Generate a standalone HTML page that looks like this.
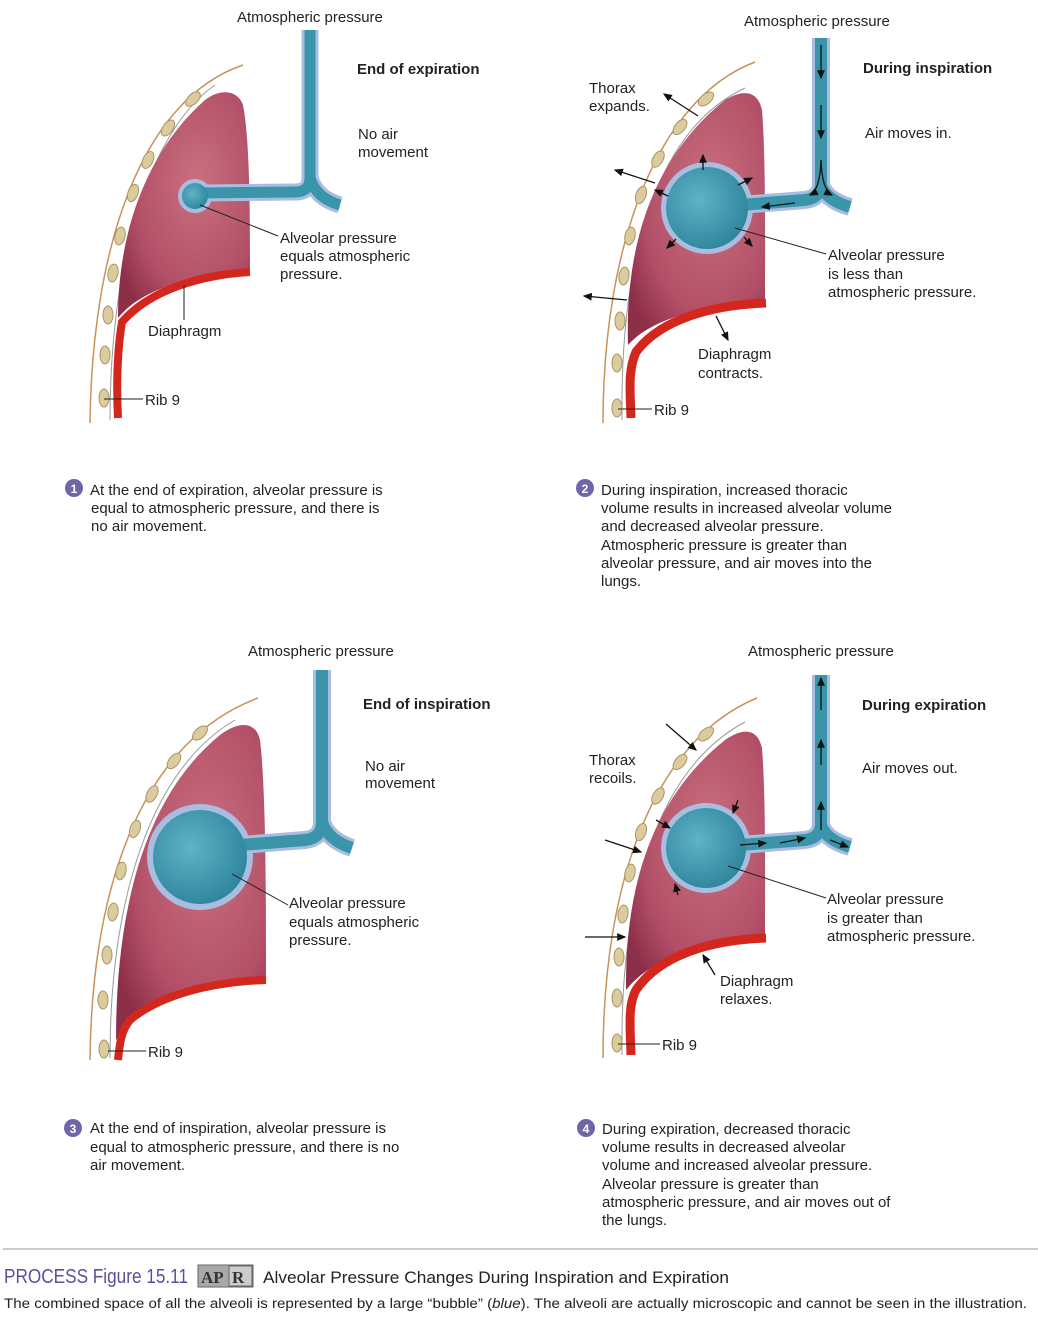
<!DOCTYPE html>
<html><head><meta charset="utf-8"><style>
body{margin:0;background:#fff;width:1038px;height:1322px;overflow:hidden;position:relative;font-family:"Liberation Sans",sans-serif;color:#222}
svg{position:absolute;left:0;top:0}
</style></head><body>
<svg width="1038" height="1322" viewBox="0 0 1038 1322" font-family="Liberation Sans, sans-serif" font-size="15" fill="#222">
<defs>
<radialGradient id="lg" cx="0.6" cy="0.4" r="0.7"><stop offset="0" stop-color="#c9707f"/><stop offset="0.7" stop-color="#b24f67"/><stop offset="1" stop-color="#8e2f4a"/></radialGradient>
<radialGradient id="bg" cx="0.4" cy="0.4" r="0.7"><stop offset="0" stop-color="#5fb3c6"/><stop offset="1" stop-color="#2a8199"/></radialGradient>
<marker id="ah" markerWidth="8" markerHeight="8" refX="6" refY="3" orient="auto"><path d="M0,0 L7,3 L0,6 z" fill="#111"/></marker>
</defs>

<!-- PANEL 1 -->
<path d="M90,423 C92,250 140,100 243,65" fill="none" stroke="#c89258" stroke-width="1.5"/>
<path d="M110,420 C110,260 150,130 215,85" fill="none" stroke="#999" stroke-width="1"/>
<g fill="#dccb9c" stroke="#a8966a">
<ellipse cx="104" cy="398" rx="5" ry="9"/><ellipse cx="105" cy="355" rx="5" ry="9"/><ellipse cx="108" cy="315" rx="5" ry="9"/><ellipse cx="113" cy="273" rx="5" ry="9" transform="rotate(10 113 273)"/><ellipse cx="120" cy="236" rx="5" ry="9" transform="rotate(12 120 236)"/><ellipse cx="133" cy="193" rx="5" ry="9" transform="rotate(20 133 193)"/><ellipse cx="148" cy="160" rx="5" ry="9" transform="rotate(25 148 160)"/><ellipse cx="168" cy="128" rx="5" ry="9" transform="rotate(35 168 128)"/><ellipse cx="193" cy="99" rx="5" ry="9" transform="rotate(45 193 99)"/></g>
<path d="M118,318 C118,230 148,150 205,100 C220,88 238,90 243,105 C250,140 250,220 250,270 C190,275 140,290 118,318 Z" fill="url(#lg)"/>
<path d="M118,418 C116,380 118,345 122,322 C150,290 200,275 250,272" fill="none" stroke="#d3261d" stroke-width="8"/>
<path d="M310,30 L310,178 Q310,192 295,192 L200,193" fill="none" stroke="#a8bde0" stroke-width="17"/>
<path d="M310,178 Q316,198 340,205" fill="none" stroke="#a8bde0" stroke-width="17"/>
<circle cx="195" cy="196" r="17" fill="#a8bde0"/>
<path d="M310,30 L310,178 Q310,192 295,192 L200,193" fill="none" stroke="#3a95ab" stroke-width="11"/>
<path d="M310,178 Q316,198 340,205" fill="none" stroke="#3a95ab" stroke-width="11"/>
<circle cx="195" cy="196" r="13" fill="url(#bg)"/>
<line x1="200" y1="205" x2="278" y2="236" stroke="#222"/>
<line x1="184" y1="285" x2="184" y2="320" stroke="#222"/>
<line x1="104" y1="399" x2="143" y2="399" stroke="#222"/>
<text x="237" y="22">Atmospheric pressure</text>
<text x="357" y="74" font-weight="bold">End of expiration</text>
<text x="358" y="139">No air</text><text x="358" y="157">movement</text>
<text x="280" y="243">Alveolar pressure</text><text x="280" y="261">equals atmospheric</text><text x="280" y="279">pressure.</text>
<text x="148" y="336">Diaphragm</text>
<text x="145" y="405">Rib 9</text>

<!-- PANEL 2 -->
<path d="M603,423 C603,250 655,100 755,62" fill="none" stroke="#c89258" stroke-width="1.5"/>
<path d="M622,420 C620,260 655,130 745,88" fill="none" stroke="#999" stroke-width="1"/>
<g fill="#dccb9c" stroke="#a8966a">
<ellipse cx="617" cy="408" rx="5" ry="9"/><ellipse cx="617" cy="363" rx="5" ry="9"/><ellipse cx="620" cy="321" rx="5" ry="9"/><ellipse cx="624" cy="276" rx="5" ry="9" transform="rotate(8 624 276)"/><ellipse cx="630" cy="236" rx="5" ry="9" transform="rotate(12 630 236)"/><ellipse cx="641" cy="195" rx="5" ry="9" transform="rotate(20 641 195)"/><ellipse cx="658" cy="159" rx="5" ry="9" transform="rotate(30 658 159)"/><ellipse cx="680" cy="127" rx="5" ry="9" transform="rotate(40 680 127)"/><ellipse cx="706" cy="99" rx="5" ry="9" transform="rotate(50 706 99)"/></g>
<path d="M628,345 C625,250 650,160 725,100 C745,88 758,92 762,110 C766,160 765,250 765,302 C700,305 650,320 628,345 Z" fill="url(#lg)"/>
<path d="M631,418 C630,390 628,370 636,352 C660,320 710,305 766,303" fill="none" stroke="#d3261d" stroke-width="9"/>
<path d="M821,38 L821,185 Q820,198 805,200 L740,205" fill="none" stroke="#a8bde0" stroke-width="18"/>
<path d="M821,185 Q826,200 850,207" fill="none" stroke="#a8bde0" stroke-width="18"/>
<circle cx="707" cy="208" r="46" fill="#a8bde0"/>
<path d="M821,38 L821,185 Q820,198 805,200 L740,205" fill="none" stroke="#3a95ab" stroke-width="12"/>
<path d="M821,185 Q826,200 850,207" fill="none" stroke="#3a95ab" stroke-width="12"/>
<circle cx="707" cy="208" r="41" fill="url(#bg)"/>
<g stroke="#111" stroke-width="1.3" marker-end="url(#ah)" fill="none">
<line x1="821" y1="45" x2="821" y2="78"/><line x1="821" y1="105" x2="821" y2="138"/>
<path d="M821,160 Q820,190 810,195"/><path d="M821,160 Q822,190 832,195"/>
<line x1="795" y1="203" x2="762" y2="207"/>
<line x1="703" y1="170" x2="703" y2="155"/><line x1="738" y1="185" x2="752" y2="178"/>
<line x1="668" y1="196" x2="655" y2="190"/><line x1="676" y1="239" x2="667" y2="248"/><line x1="744" y1="237" x2="752" y2="246"/>
<line x1="698" y1="116" x2="664" y2="94"/><line x1="655" y1="183" x2="615" y2="170"/><line x1="627" y1="300" x2="584" y2="296"/>
<line x1="716" y1="316" x2="728" y2="340"/></g>
<line x1="735" y1="228" x2="826" y2="254" stroke="#222"/>
<line x1="618" y1="409" x2="652" y2="409" stroke="#222"/>
<text x="744" y="26">Atmospheric pressure</text>
<text x="863" y="73" font-weight="bold">During inspiration</text>
<text x="865" y="138">Air moves in.</text>
<text x="589" y="93">Thorax</text><text x="589" y="111">expands.</text>
<text x="828" y="260">Alveolar pressure</text><text x="828" y="279">is less than</text><text x="828" y="297">atmospheric pressure.</text>
<text x="698" y="359">Diaphragm</text><text x="698" y="378">contracts.</text>
<text x="654" y="415">Rib 9</text>

<!-- PANEL 3 -->
<path d="M90,1060 C92,880 145,740 258,698" fill="none" stroke="#c89258" stroke-width="1.5"/>
<path d="M110,1058 C110,900 150,770 235,720" fill="none" stroke="#999" stroke-width="1"/>
<g fill="#dccb9c" stroke="#a8966a">
<ellipse cx="104" cy="1049" rx="5" ry="9"/><ellipse cx="103" cy="1000" rx="5" ry="9"/><ellipse cx="107" cy="955" rx="5" ry="9"/><ellipse cx="113" cy="912" rx="5" ry="9" transform="rotate(8 113 912)"/><ellipse cx="121" cy="871" rx="5" ry="9" transform="rotate(12 121 871)"/><ellipse cx="135" cy="829" rx="5" ry="9" transform="rotate(20 135 829)"/><ellipse cx="152" cy="794" rx="5" ry="9" transform="rotate(28 152 794)"/><ellipse cx="174" cy="761" rx="5" ry="9" transform="rotate(38 174 761)"/><ellipse cx="200" cy="733" rx="5" ry="9" transform="rotate(48 200 733)"/></g>
<path d="M116,1040 C116,920 140,800 220,735 C240,720 256,722 260,740 C266,790 266,900 266,980 C200,985 150,1000 125,1025 Z" fill="url(#lg)"/>
<path d="M118,1060 C120,1040 122,1030 130,1020 C160,995 210,982 266,980" fill="none" stroke="#d3261d" stroke-width="8"/>
<path d="M322,670 L322,822 Q322,838 305,840 L240,845" fill="none" stroke="#a8bde0" stroke-width="18"/>
<path d="M322,822 Q328,840 352,848" fill="none" stroke="#a8bde0" stroke-width="18"/>
<circle cx="200" cy="857" r="53" fill="#a8bde0"/>
<path d="M322,670 L322,822 Q322,838 305,840 L240,845" fill="none" stroke="#3a95ab" stroke-width="12"/>
<path d="M322,822 Q328,840 352,848" fill="none" stroke="#3a95ab" stroke-width="12"/>
<circle cx="200" cy="857" r="47" fill="url(#bg)"/>
<line x1="232" y1="874" x2="288" y2="905" stroke="#222"/>
<line x1="108" y1="1051" x2="146" y2="1051" stroke="#222"/>
<text x="248" y="656">Atmospheric pressure</text>
<text x="363" y="709" font-weight="bold">End of inspiration</text>
<text x="365" y="771">No air</text><text x="365" y="788">movement</text>
<text x="289" y="908">Alveolar pressure</text><text x="289" y="927">equals atmospheric</text><text x="289" y="945">pressure.</text>
<text x="148" y="1057">Rib 9</text>

<!-- PANEL 4 -->
<path d="M603,1058 C603,880 655,740 757,698" fill="none" stroke="#c89258" stroke-width="1.5"/>
<path d="M622,1055 C620,900 655,770 745,722" fill="none" stroke="#999" stroke-width="1"/>
<g fill="#dccb9c" stroke="#a8966a">
<ellipse cx="617" cy="1043" rx="5" ry="9"/><ellipse cx="617" cy="998" rx="5" ry="9"/><ellipse cx="619" cy="957" rx="5" ry="9"/><ellipse cx="623" cy="914" rx="5" ry="9" transform="rotate(8 623 914)"/><ellipse cx="630" cy="873" rx="5" ry="9" transform="rotate(12 630 873)"/><ellipse cx="641" cy="832" rx="5" ry="9" transform="rotate(20 641 832)"/><ellipse cx="658" cy="796" rx="5" ry="9" transform="rotate(30 658 796)"/><ellipse cx="680" cy="762" rx="5" ry="9" transform="rotate(40 680 762)"/><ellipse cx="706" cy="734" rx="5" ry="9" transform="rotate(50 706 734)"/></g>
<path d="M626,990 C625,890 650,800 725,740 C745,726 758,730 762,748 C766,800 765,880 765,938 C700,940 650,960 626,990 Z" fill="url(#lg)"/>
<path d="M631,1055 C630,1025 628,1005 636,990 C660,955 710,940 766,938" fill="none" stroke="#d3261d" stroke-width="9"/>
<path d="M821,675 L821,825 Q820,838 805,840 L740,845" fill="none" stroke="#a8bde0" stroke-width="18"/>
<path d="M821,825 Q826,840 850,847" fill="none" stroke="#a8bde0" stroke-width="18"/>
<circle cx="706" cy="848" r="45" fill="#a8bde0"/>
<path d="M821,675 L821,825 Q820,838 805,840 L740,845" fill="none" stroke="#3a95ab" stroke-width="12"/>
<path d="M821,825 Q826,840 850,847" fill="none" stroke="#3a95ab" stroke-width="12"/>
<circle cx="706" cy="848" r="40" fill="url(#bg)"/>
<g stroke="#111" stroke-width="1.3" marker-end="url(#ah)" fill="none">
<line x1="821" y1="710" x2="821" y2="678"/><line x1="821" y1="765" x2="821" y2="740"/><line x1="821" y1="830" x2="821" y2="802"/>
<line x1="740" y1="845" x2="766" y2="843"/><line x1="780" y1="843" x2="805" y2="838"/><line x1="830" y1="840" x2="848" y2="847"/>
<line x1="738" y1="800" x2="733" y2="813"/><line x1="656" y1="820" x2="670" y2="828"/><line x1="678" y1="895" x2="675" y2="884"/>
<line x1="666" y1="724" x2="696" y2="750"/><line x1="605" y1="840" x2="641" y2="852"/><line x1="585" y1="937" x2="625" y2="937"/>
<line x1="715" y1="975" x2="703" y2="955"/></g>
<line x1="728" y1="866" x2="826" y2="898" stroke="#222"/>
<line x1="618" y1="1044" x2="660" y2="1044" stroke="#222"/>
<text x="748" y="656">Atmospheric pressure</text>
<text x="862" y="710" font-weight="bold">During expiration</text>
<text x="862" y="773">Air moves out.</text>
<text x="589" y="765">Thorax</text><text x="589" y="783">recoils.</text>
<text x="827" y="904">Alveolar pressure</text><text x="827" y="923">is greater than</text><text x="827" y="941">atmospheric pressure.</text>
<text x="720" y="986">Diaphragm</text><text x="720" y="1004">relaxes.</text>
<text x="662" y="1050">Rib 9</text>

<!-- captions -->
<g font-size="15">
<circle cx="74" cy="488" r="9" fill="#6f65a8"/><text x="74" y="493" fill="#fff" text-anchor="middle" font-size="12" font-weight="bold">1</text>
<text x="90" y="495">At the end of expiration, alveolar pressure is</text>
<text x="91" y="513">equal to atmospheric pressure, and there is</text>
<text x="91" y="531">no air movement.</text>
<circle cx="585" cy="488" r="9" fill="#6f65a8"/><text x="585" y="493" fill="#fff" text-anchor="middle" font-size="12" font-weight="bold">2</text>
<text x="601" y="495">During inspiration, increased thoracic</text>
<text x="601" y="513">volume results in increased alveolar volume</text>
<text x="601" y="531">and decreased alveolar pressure.</text>
<text x="601" y="550">Atmospheric pressure is greater than</text>
<text x="601" y="568">alveolar pressure, and air moves into the</text>
<text x="601" y="586">lungs.</text>
<circle cx="73" cy="1128" r="9" fill="#6f65a8"/><text x="73" y="1133" fill="#fff" text-anchor="middle" font-size="12" font-weight="bold">3</text>
<text x="90" y="1133">At the end of inspiration, alveolar pressure is</text>
<text x="90" y="1152">equal to atmospheric pressure, and there is no</text>
<text x="90" y="1170">air movement.</text>
<circle cx="586" cy="1128" r="9" fill="#6f65a8"/><text x="586" y="1133" fill="#fff" text-anchor="middle" font-size="12" font-weight="bold">4</text>
<text x="602" y="1134">During expiration, decreased thoracic</text>
<text x="602" y="1152">volume results in decreased alveolar</text>
<text x="602" y="1170">volume and increased alveolar pressure.</text>
<text x="602" y="1189">Alveolar pressure is greater than</text>
<text x="602" y="1207">atmospheric pressure, and air moves out of</text>
<text x="602" y="1225">the lungs.</text>
</g>
<line x1="3" y1="1249" x2="1038" y2="1249" stroke="#999" stroke-width="1"/>
<text x="4" y="1283" font-size="20" fill="#5b4f9e" font-family="Liberation Sans Narrow, Liberation Sans, sans-serif" textLength="184" lengthAdjust="spacingAndGlyphs">PROCESS Figure 15.11</text>
<rect x="198" y="1265" width="55" height="22" fill="#a9a9a9" stroke="#666"/>
<text x="201" y="1283" font-size="17" font-weight="bold" fill="#333" font-family="Liberation Serif, serif">AP</text>
<rect x="229" y="1266" width="23" height="20" fill="#ccc" stroke="#666"/>
<text x="232" y="1283" font-size="17" font-weight="bold" fill="#333" font-family="Liberation Serif, serif">R</text>
<text x="263" y="1283" font-size="16.5" fill="#222" textLength="466" lengthAdjust="spacingAndGlyphs">Alveolar Pressure Changes During Inspiration and Expiration</text>
<text x="4" y="1308" font-size="13.5" fill="#222" textLength="1023" lengthAdjust="spacingAndGlyphs">The combined space of all the alveoli is represented by a large “bubble” (<tspan font-style="italic">blue</tspan>). The alveoli are actually microscopic and cannot be seen in the illustration.</text>
</svg>
</body></html>
